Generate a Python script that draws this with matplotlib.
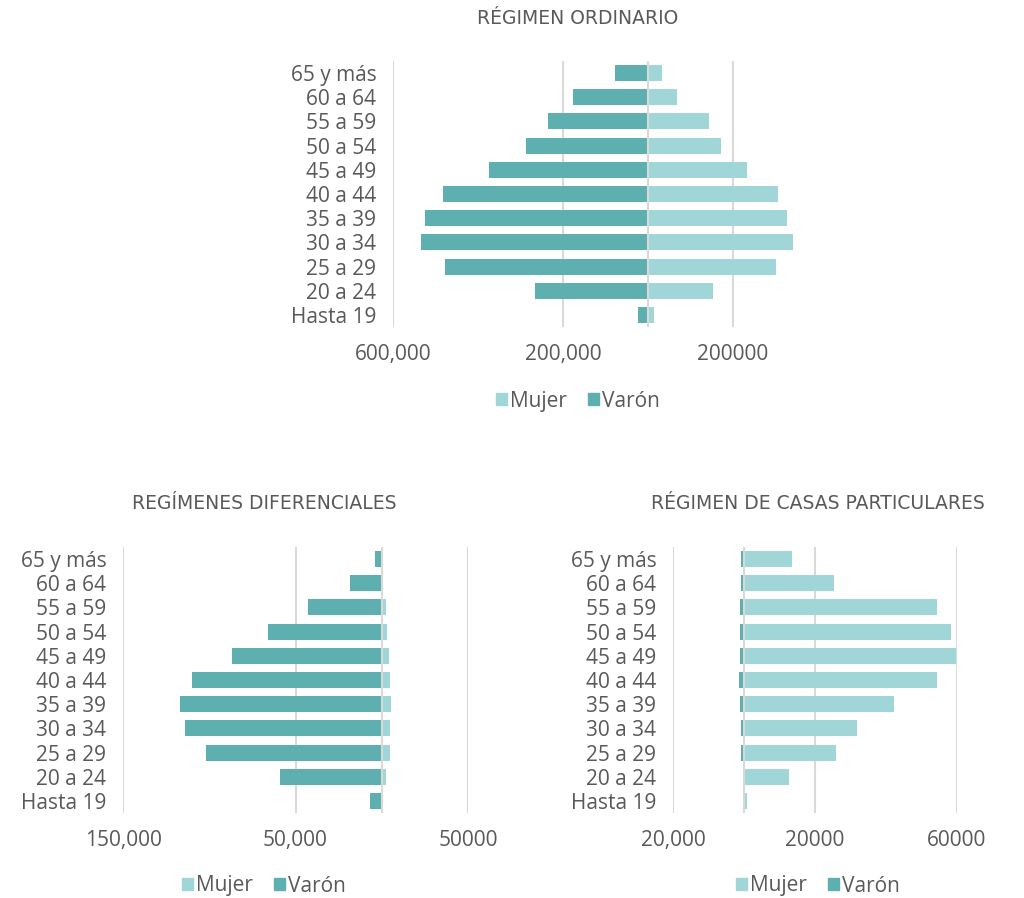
import matplotlib.pyplot as plt
from matplotlib.patches import Patch

plt.rcParams['font.family'] = ['Open Sans', 'DejaVu Sans']

grupos = ["Hasta 19", "20 a 24", "25 a 29", "30 a 34", "35 a 39", "40 a 44",
          "45 a 49", "50 a 54", "55 a 59", "60 a 64", "65 y más"]

# Régimen ordinario
ord_varon = [24000, 266000, 478000, 534000, 525000, 482000, 374000, 287000, 235000, 176000, 78000]
ord_mujer = [14000, 153000, 301000, 341000, 327000, 306000, 233000, 172000, 144000, 68000, 33000]

# Regímenes diferenciales
dif_varon = [7000, 59000, 102000, 114000, 117000, 110000, 87000, 66000, 43000, 18600, 4000]
dif_mujer = [200, 2300, 4600, 5000, 5200, 4600, 4000, 3000, 2300, 500, 300]

# Régimen de casas particulares
cas_varon = [100, 300, 800, 850, 1100, 1400, 1200, 1100, 1100, 850, 850]
cas_mujer = [850, 12700, 25900, 31800, 42300, 54400, 59700, 58300, 54400, 25400, 13500]

C_VARON = "#5EAFB0"
C_MUJER = "#A0D6D7"
C_GRID = "#D9D9D9"
C_TEXT = "#595959"

W, H = 1024, 898
fig = plt.figure(figsize=(W / 100, H / 100), dpi=100)


def px_axes(x0, x1, y0, y1):
    return fig.add_axes([x0 / W, 1 - y1 / H, (x1 - x0) / W, (y1 - y0) / H])


def piramide(ax, varon, mujer, xlim, ticks, labels, title, cx, ty, ly):
    y = range(len(grupos))
    ax.barh(y, [-v for v in varon], height=0.66, color=C_VARON, zorder=2)
    ax.barh(y, mujer, height=0.66, color=C_MUJER, zorder=2)
    ax.set_xlim(*xlim)
    ax.set_ylim(-0.5, len(grupos) - 0.5)
    ax.set_xticks(ticks)
    ax.set_xticklabels(labels)
    ax.set_yticks(list(y))
    ax.set_yticklabels(grupos)
    ax.tick_params(length=0, labelsize=15, labelcolor=C_TEXT)
    ax.tick_params(axis='y', pad=12)
    ax.tick_params(axis='x', pad=12)
    for s in ax.spines.values():
        s.set_visible(False)
    for t in ticks:
        ax.axvline(t, color=C_GRID, lw=1.5, zorder=1)
    ax.axvline(0, color=C_GRID, lw=1.5, zorder=3)
    fig.text(cx / W, 1 - ty / H, title, ha='center', va='center',
             fontsize=13.5, color=C_TEXT, family='DejaVu Sans')
    handles = [Patch(color=C_MUJER, label="Mujer"), Patch(color=C_VARON, label="Varón")]
    fig.legend(handles=handles, loc='center', bbox_to_anchor=(cx / W, 1 - ly / H),
               ncol=2, frameon=False, fontsize=15, labelcolor=C_TEXT,
               handlelength=0.55, handleheight=0.55, handletextpad=0.15,
               columnspacing=1.0)


ax1 = px_axes(393, 818, 61, 327)
piramide(ax1, ord_varon, ord_mujer, (-600000, 400000),
         [-600000, -200000, 200000], ["600,000", "200,000", "200000"],
         "RÉGIMEN ORDINARIO", 578, 18, 401)

ax2 = px_axes(123, 468, 547, 813)
piramide(ax2, dif_varon, dif_mujer, (-150000, 50000),
         [-150000, -50000, 50000], ["150,000", "50,000", "50000"],
         "REGÍMENES DIFERENCIALES", 264, 503, 886)

ax3 = px_axes(673, 957, 547, 813)
piramide(ax3, cas_varon, cas_mujer, (-20000, 60000),
         [-20000, 20000, 60000], ["20,000", "20000", "60000"],
         "RÉGIMEN DE CASAS PARTICULARES", 818, 503, 886)

fig.savefig("out.png", dpi=100)
